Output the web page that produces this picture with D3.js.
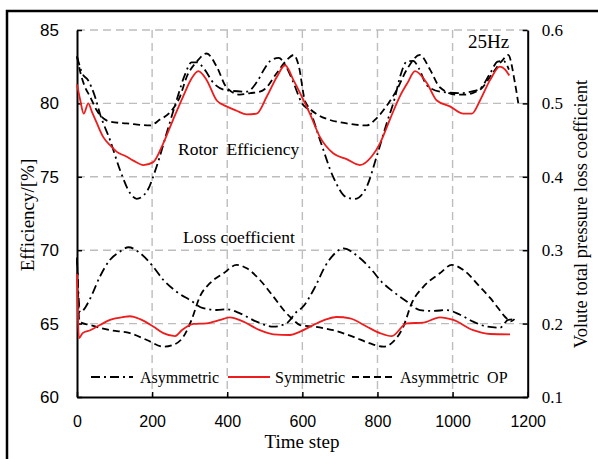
<!DOCTYPE html>
<html>
<head>
<meta charset="utf-8">
<script src="https://cdn.jsdelivr.net/npm/d3@7"></script>
<style>
  html, body { margin: 0; padding: 0; background: #fff; }
  svg { display: block; }
</style>
</head>
<body>
<figure id="chart" style="margin:0"></figure>
<script>
// tick labels
const stepTicks = [0, 200, 400, 600, 800, 1000, 1200];
const effTicks = [60, 65, 70, 75, 80, 85];
const lossTicks = [0.1, 0.2, 0.3, 0.4, 0.5, 0.6];

const seriesNames = ["Asymmetric", "Symmetric", "Asymmetric\u00a0 OP"];

// rotor efficiency [%] - left axis
const effAsymSteps = [0, 15, 29, 48, 61, 88, 114, 141, 159, 186, 212, 239, 265, 288, 305, 320, 340, 363, 398, 452, 480, 500, 515, 537, 555, 575, 599, 621, 647, 682, 718, 740, 771, 798, 824, 847, 860, 878, 895, 910, 931, 966, 1020, 1050, 1073, 1100, 1120, 1135, 1150];
const effAsymValues = [83.2, 82.0, 81.6, 80.45, 79.3, 77.5, 75.5, 73.9, 73.5, 74.0, 75.7, 78.0, 80.2, 82.0, 82.8, 82.8, 82.3, 81.4, 80.9, 80.8, 81.5, 82.4, 82.9, 83.1, 82.6, 81.5, 80.0, 79.4, 77.5, 75.0, 73.6, 73.5, 74.3, 76.4, 78.6, 80.45, 81.8, 82.85, 82.9, 82.4, 81.25, 80.8, 80.7, 80.8, 81.0, 82.05, 82.85, 82.9, 82.3];

const effSymSteps = [0, 8, 18, 30, 40, 52, 70, 90, 106, 130, 150, 177, 203, 230, 256, 283, 305, 323, 345, 372, 398, 425, 452, 478, 505, 532, 554, 576, 594, 620, 647, 682, 718, 753, 785, 807, 833, 860, 880, 900, 931, 958, 993, 1029, 1051, 1073, 1100, 1126, 1140, 1151];
const effSymValues = [81.3, 80.3, 79.3, 80.0, 79.4, 78.7, 77.7, 77.1, 76.7, 76.4, 76.1, 75.8, 76.0, 77.3, 78.9, 80.5, 81.7, 82.2, 81.6, 80.2, 79.8, 79.5, 79.25, 79.3, 80.45, 81.8, 82.6, 81.6, 80.7, 79.3, 77.7, 76.6, 76.2, 75.8, 76.4, 77.3, 78.9, 80.5, 81.4, 82.2, 81.4, 80.2, 79.8, 79.3, 79.3, 80.2, 81.6, 82.5, 82.3, 81.9];

const effOpSteps = [0, 10, 20, 35, 52, 88, 132, 194, 221, 248, 274, 292, 319, 345, 372, 398, 434, 461, 487, 501, 530, 560, 577, 590, 608, 643, 670, 718, 771, 798, 829, 851, 878, 913, 940, 966, 1010, 1036, 1062, 1076, 1105, 1135, 1148, 1166, 1175];
const effOpValues = [83.2, 82.0, 81.2, 80.45, 79.55, 78.75, 78.64, 78.5, 78.9, 79.4, 80.45, 81.8, 82.85, 83.4, 82.5, 81.1, 80.6, 80.7, 80.8, 81.0, 82.0, 83.0, 83.3, 82.6, 80.1, 79.2, 78.9, 78.64, 78.5, 79.0, 80.0, 80.9, 82.3, 83.3, 82.3, 81.1, 80.6, 80.6, 80.8, 81.0, 82.0, 83.0, 83.3, 81.4, 80.0];

// volute total pressure loss coefficient - right axis
const lossAsymSteps = [0, 3, 8, 17, 35, 61, 88, 114, 137, 168, 203, 230, 265, 301, 336, 372, 398, 434, 478, 523, 558, 585, 598, 634, 660, 687, 709, 749, 785, 811, 842, 878, 913, 949, 984, 1020, 1055, 1091, 1126, 1148, 1162];
const lossAsymValues = [0.287, 0.25, 0.215, 0.2185, 0.234, 0.264, 0.287, 0.298, 0.304, 0.296, 0.2775, 0.2594, 0.2435, 0.232, 0.221, 0.2185, 0.2195, 0.214, 0.2026, 0.1958, 0.2004, 0.2162, 0.221, 0.25, 0.2775, 0.2958, 0.3026, 0.291, 0.273, 0.257, 0.2435, 0.23, 0.2185, 0.2172, 0.2185, 0.212, 0.2026, 0.196, 0.1945, 0.205, 0.206];

const lossSymSteps = [0, 2, 5, 15, 35, 61, 88, 123, 141, 168, 203, 230, 261, 279, 310, 345, 381, 407, 443, 487, 523, 567, 594, 629, 665, 691, 727, 771, 807, 838, 878, 922, 966, 1002, 1055, 1100, 1153];
const lossSymValues = [0.268, 0.22, 0.18, 0.187, 0.191, 0.198, 0.205, 0.209, 0.21, 0.206, 0.196, 0.187, 0.183, 0.191, 0.1995, 0.2004, 0.205, 0.2086, 0.2026, 0.191, 0.1854, 0.1845, 0.189, 0.198, 0.206, 0.209, 0.207, 0.196, 0.187, 0.183, 0.2004, 0.2013, 0.2086, 0.205, 0.191, 0.1858, 0.1854];

const lossOpSteps = [0, 3, 6, 35, 88, 141, 186, 230, 256, 283, 305, 327, 354, 390, 425, 452, 487, 523, 554, 576, 594, 629, 682, 736, 780, 816, 842, 869, 891, 922, 966, 998, 1029, 1073, 1100, 1120, 1140, 1155, 1165];
const lossOpValues = [0.29, 0.24, 0.2026, 0.198, 0.191, 0.187, 0.1777, 0.1685, 0.171, 0.182, 0.205, 0.2367, 0.255, 0.2685, 0.28, 0.2753, 0.2594, 0.2367, 0.2162, 0.205, 0.198, 0.196, 0.191, 0.182, 0.173, 0.1685, 0.1754, 0.196, 0.2276, 0.25, 0.2685, 0.28, 0.273, 0.25, 0.235, 0.222, 0.209, 0.203, 0.206];

const W = 598, H = 459;
const plot = { left: 77, right: 527.7, top: 30, bottom: 397 };
const serif = "'Liberation Serif', 'Times New Roman', serif";
const sans = "'Liberation Sans', Arial, sans-serif";
const red = "#ee1d1d";
const dashDot = "9,4,2,4";
const dashed = "7,4";

const svg = d3.select("#chart")
  .append("svg")
  .attr("width", W)
  .attr("height", H)
  .style("background", "#fff");

// outer frame (only left and top edges are visible)
svg.append("path")
  .attr("d", `M7,${H} V11 H${W}`)
  .attr("fill", "none")
  .attr("stroke", "#000")
  .attr("stroke-width", 2.5);

const x = d3.scaleLinear().domain([0, 1200]).range([plot.left, plot.right]);
const yEff = d3.scaleLinear().domain([60, 85]).range([plot.bottom, plot.top]);
const yLoss = d3.scaleLinear().domain([0.1, 0.6]).range([plot.bottom, plot.top]);

// grid
const grid = svg.append("g")
  .attr("stroke", "#bdbdbd")
  .attr("stroke-width", 1.4)
  .attr("stroke-dasharray", "8,5");

grid.selectAll("line.v")
  .data(stepTicks.filter(d => d > 0 && d < 1200))
  .enter()
  .append("line")
  .attr("x1", d => x(d)).attr("x2", d => x(d))
  .attr("y1", plot.top).attr("y2", plot.bottom);

grid.selectAll("line.h")
  .data(effTicks.filter(d => d > 60))
  .enter()
  .append("line")
  .attr("x1", plot.left).attr("x2", plot.right)
  .attr("y1", d => yEff(d)).attr("y2", d => yEff(d));

// axes
const styleAxis = (g, font, size) => {
  g.select(".domain").attr("stroke", "#000").attr("stroke-width", 2);
  g.selectAll(".tick line").attr("stroke", "#000").attr("stroke-width", 1.5);
  g.selectAll(".tick text").attr("fill", "#000").style("font-family", font).style("font-size", size + "px");
};

svg.append("g")
  .attr("transform", `translate(${plot.left},0)`)
  .call(d3.axisLeft(yEff).tickValues(effTicks).tickSizeInner(-5).tickSizeOuter(0).tickPadding(18))
  .call(g => styleAxis(g, sans, 17));

svg.append("g")
  .attr("transform", `translate(${plot.right},0)`)
  .call(d3.axisRight(yLoss).tickValues(lossTicks).tickFormat(d3.format(".1f")).tickSizeInner(-5).tickSizeOuter(0).tickPadding(14))
  .call(g => styleAxis(g, serif, 17));

svg.append("g")
  .attr("transform", `translate(0,${plot.bottom})`)
  .call(d3.axisBottom(x).tickValues(stepTicks).tickFormat(d3.format("d")).tickSizeInner(-5).tickSizeOuter(0).tickPadding(19))
  .call(g => styleAxis(g, sans, 16));

// series
const effLine = d3.line().x(d => x(d[0])).y(d => yEff(d[1])).curve(d3.curveMonotoneX);
const lossLine = d3.line().x(d => x(d[0])).y(d => yLoss(d[1])).curve(d3.curveMonotoneX);
const pairs = (s, v) => s.map((t, i) => [t, v[i]]);

const series = [
  { line: effLine, data: pairs(effOpSteps, effOpValues), color: "#000", dash: dashed },
  { line: effLine, data: pairs(effAsymSteps, effAsymValues), color: "#000", dash: dashDot },
  { line: effLine, data: pairs(effSymSteps, effSymValues), color: red, dash: null },
  { line: lossLine, data: pairs(lossOpSteps, lossOpValues), color: "#000", dash: dashed },
  { line: lossLine, data: pairs(lossAsymSteps, lossAsymValues), color: "#000", dash: dashDot },
  { line: lossLine, data: pairs(lossSymSteps, lossSymValues), color: red, dash: null }
];

svg.selectAll("path.series")
  .data(series)
  .enter()
  .append("path")
  .attr("class", "series")
  .attr("d", d => d.line(d.data))
  .attr("fill", "none")
  .attr("stroke", d => d.color)
  .attr("stroke-width", 1.8)
  .attr("stroke-dasharray", d => d.dash);

// legend
const legendItems = [
  { name: seriesNames[0], color: "#000", dash: dashDot, x0: 91, x1: 133, tx: 140 },
  { name: seriesNames[1], color: red, dash: null, x0: 228, x1: 270, tx: 275 },
  { name: seriesNames[2], color: "#000", dash: dashed, x0: 352, x1: 393, tx: 400 }
];
const legend = svg.append("g");
legend.selectAll("line")
  .data(legendItems)
  .enter()
  .append("line")
  .attr("x1", d => d.x0).attr("x2", d => d.x1)
  .attr("y1", 377).attr("y2", 377)
  .attr("stroke", d => d.color)
  .attr("stroke-width", 1.8)
  .attr("stroke-dasharray", d => d.dash);
legend.selectAll("text")
  .data(legendItems)
  .enter()
  .append("text")
  .attr("x", d => d.tx)
  .attr("y", 383)
  .style("font-family", serif)
  .style("font-size", "16px")
  .text(d => d.name);

// annotations and axis titles
const label = (txt, x0, y0, size, anchor, rot) => svg.append("text")
  .attr("transform", `translate(${x0},${y0})` + (rot ? ` rotate(${rot})` : ""))
  .attr("text-anchor", anchor)
  .style("font-family", serif)
  .style("font-size", size + "px")
  .text(txt);

label("Rotor\u00a0 Efficiency", 178, 155, 17.5, "start");
label("Loss coefficient", 183, 243, 17.5, "start");
label("25Hz", 468, 48, 19, "start");
label("Time step", 302, 448, 19, "middle");
label("Efficiency/[%]", 34, 215, 19, "middle", -90);
label("Volute total pressure loss coefficient", 587, 214, 18.5, "middle", -90);
</script>
</body>
</html>
